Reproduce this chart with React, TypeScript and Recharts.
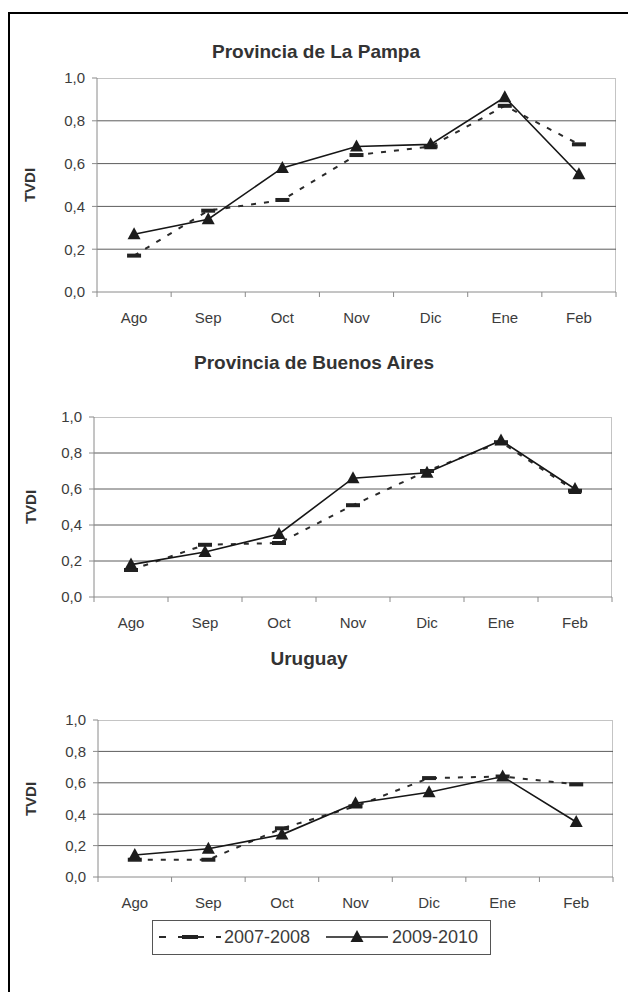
import React from 'react';
import { LineChart, Line, XAxis, YAxis, CartesianGrid } from 'recharts';

// months on the x axis
const months = ['Ago', 'Sep', 'Oct', 'Nov', 'Dic', 'Ene', 'Feb'];

// TVDI values
const pampa0708 = [0.17, 0.38, 0.43, 0.64, 0.68, 0.87, 0.69];
const pampa0910 = [0.27, 0.34, 0.58, 0.68, 0.69, 0.91, 0.55];
const baires0708 = [0.15, 0.29, 0.3, 0.51, 0.7, 0.86, 0.59];
const baires0910 = [0.18, 0.25, 0.35, 0.66, 0.69, 0.87, 0.6];
const uruguay0708 = [0.11, 0.11, 0.31, 0.45, 0.63, 0.64, 0.59];
const uruguay0910 = [0.14, 0.18, 0.27, 0.47, 0.54, 0.64, 0.35];

const yTicks = [0, 0.2, 0.4, 0.6, 0.8, 1];
const seriesNames = ['2007-2008', '2009-2010'];

const FONT = '"Liberation Sans", Arial, Helvetica, sans-serif';
const TEXT = '#3c3c3c';
const AXIS = '#8a8a8a';

const fmt = (v: number) => v.toFixed(1).replace('.', ',');

const triangleDot = (p: any) => {
  const { cx, cy, index } = p;
  if (cx == null || cy == null) return <g key={`t${index}`} />;
  return (
    <path
      key={`t${index}`}
      d={`M${cx - 6.5},${cy + 5} L${cx + 6.5},${cy + 5} L${cx},${cy - 7} Z`}
      fill="#1c1c1c"
    />
  );
};

const dashDot = (p: any) => {
  const { cx, cy, index } = p;
  if (cx == null || cy == null) return <g key={`d${index}`} />;
  return <rect key={`d${index}`} x={cx - 7} y={cy - 2} width={14} height={4} fill="#222" />;
};

function MonthTick(props: any) {
  const { x, y, payload, index, band, count } = props;
  return (
    <g>
      <line x1={x - band / 2} x2={x - band / 2} y1={y} y2={y + 5} stroke={AXIS} />
      {index === count - 1 && (
        <line x1={x + band / 2} x2={x + band / 2} y1={y} y2={y + 5} stroke={AXIS} />
      )}
      <text x={x} y={y + 31} textAnchor="middle" fontSize={15} fill={TEXT} fontFamily={FONT}>
        {payload.value}
      </text>
    </g>
  );
}

interface PanelProps {
  title: string;
  titleX: number;
  titleY: number;
  labelX: number;
  plot: { left: number; right: number; top: number; bottom: number };
  a: number[];
  b: number[];
}

function Panel({ title, titleX, titleY, labelX, plot, a, b }: PanelProps) {
  const data = months.map((m, i) => ({ month: m, a: a[i], b: b[i] }));
  const pad = 10;
  const band = (plot.right - plot.left) / months.length;
  const h = plot.bottom - plot.top + pad + 45;
  return (
    <>
      <div
        style={{
          position: 'absolute',
          left: titleX - 200,
          width: 400,
          top: titleY - 11,
          lineHeight: '22px',
          textAlign: 'center',
          fontFamily: FONT,
          fontWeight: 'bold',
          fontSize: 19,
          color: '#333',
        }}
      >
        {title}
      </div>
      <div
        style={{
          position: 'absolute',
          left: labelX - 40,
          width: 80,
          top: (plot.top + plot.bottom) / 2 - 9,
          lineHeight: '18px',
          textAlign: 'center',
          transform: 'rotate(-90deg)',
          fontFamily: FONT,
          fontWeight: 'bold',
          fontSize: 15,
          color: '#333',
        }}
      >
        TVDI
      </div>
      <div
        style={{
          position: 'absolute',
          left: plot.left,
          top: plot.top,
          width: plot.right - plot.left,
          height: plot.bottom - plot.top,
          borderTop: '1px solid #c4c4c4',
          borderRight: '1px solid #c4c4c4',
          boxSizing: 'border-box',
        }}
      />
      <div style={{ position: 'absolute', left: 0, top: plot.top - pad }}>
        <LineChart
          width={plot.right + pad}
          height={h}
          data={data}
          margin={{ top: pad, right: pad, left: plot.left - 70, bottom: 0 }}
        >
          <CartesianGrid vertical={false} horizontalValues={[0.2, 0.4, 0.6, 0.8]} stroke="#5c5c5c" />
          <XAxis
            dataKey="month"
            interval={0}
            height={45}
            tickSize={0}
            tickMargin={0}
            tickLine={false}
            axisLine={{ stroke: AXIS }}
            padding={{ left: band / 2, right: band / 2 }}
            tick={(p: any) => <MonthTick {...p} band={band} count={months.length} />}
          />
          <YAxis
            domain={[0, 1]}
            ticks={yTicks}
            width={70}
            tickSize={5}
            tickMargin={7}
            tickFormatter={fmt}
            axisLine={{ stroke: AXIS }}
            tickLine={{ stroke: AXIS }}
            tick={{ fontSize: 15, fill: TEXT, fontFamily: FONT }}
          />
          <Line
            dataKey="a"
            name={seriesNames[0]}
            stroke="#2a2a2a"
            strokeWidth={2}
            strokeDasharray="5 8"
            dot={dashDot}
            activeDot={false}
            isAnimationActive={false}
          />
          <Line
            dataKey="b"
            name={seriesNames[1]}
            stroke="#161616"
            strokeWidth={1.6}
            dot={triangleDot}
            activeDot={false}
            isAnimationActive={false}
          />
        </LineChart>
      </div>
    </>
  );
}

export default function App() {
  return (
    <div
      style={{
        position: 'absolute',
        left: 0,
        top: 0,
        width: 628,
        height: 992,
        overflow: 'hidden',
        background: '#fff',
        fontFamily: FONT,
      }}
    >
      <div
        style={{
          position: 'absolute',
          left: 8,
          top: 12,
          width: 700,
          height: 1100,
          borderLeft: '2px solid #000',
          borderTop: '2px solid #000',
        }}
      />
      <Panel
        title="Provincia de La Pampa"
        titleX={316}
        titleY={52}
        labelX={30}
        plot={{ left: 97, right: 616, top: 78, bottom: 292 }}
        a={pampa0708}
        b={pampa0910}
      />
      <Panel
        title="Provincia de Buenos Aires"
        titleX={314}
        titleY={363}
        labelX={31}
        plot={{ left: 94, right: 612, top: 417, bottom: 597 }}
        a={baires0708}
        b={baires0910}
      />
      <Panel
        title="Uruguay"
        titleX={309}
        titleY={659}
        labelX={31}
        plot={{ left: 98, right: 613, top: 720, bottom: 877 }}
        a={uruguay0708}
        b={uruguay0910}
      />
      {/* legend */}
      <div
        style={{
          position: 'absolute',
          left: 152,
          top: 920,
          width: 339,
          height: 35,
          border: '1px solid #555',
          boxSizing: 'border-box',
          fontSize: 18,
          color: TEXT,
        }}
      >
        <svg style={{ position: 'absolute', left: 4, top: 6 }} width={66} height={20}>
          <line x1={2} x2={64} y1={10} y2={10} stroke="#2a2a2a" strokeWidth={2} strokeDasharray="7 12" />
          <rect x={25} y={8} width={16} height={4} fill="#222" />
        </svg>
        <span style={{ position: 'absolute', left: 71, top: 5, lineHeight: '22px' }}>{seriesNames[0]}</span>
        <svg style={{ position: 'absolute', left: 171, top: 6 }} width={66} height={20}>
          <line x1={2} x2={64} y1={10} y2={10} stroke="#161616" strokeWidth={1.6} />
          <path d="M26.5,15 L39.5,15 L33,3 Z" fill="#1c1c1c" />
        </svg>
        <span style={{ position: 'absolute', left: 239, top: 5, lineHeight: '22px' }}>{seriesNames[1]}</span>
      </div>
    </div>
  );
}
